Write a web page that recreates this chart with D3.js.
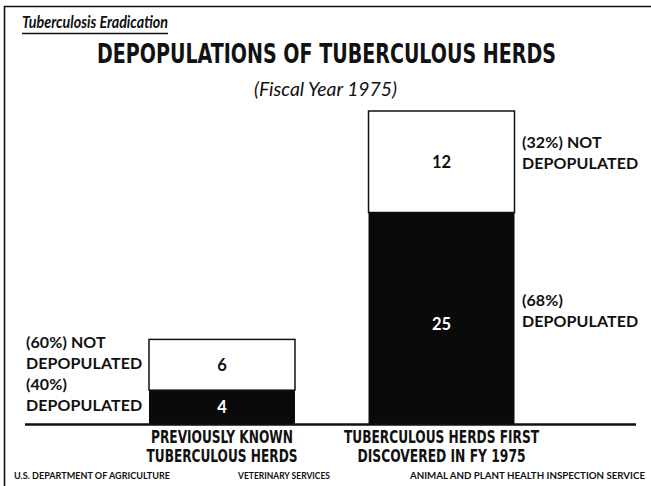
<!DOCTYPE html>
<html>
<head>
<meta charset="utf-8">
<script src="https://cdn.jsdelivr.net/npm/d3@7"></script>
<style>
  html, body { margin: 0; padding: 0; background: #fff; }
  svg { display: block; }
</style>
</head>
<body>
<script>
// ---- data ----
const categories = ["PREVIOUSLY KNOWN|TUBERCULOUS HERDS", "TUBERCULOUS HERDS FIRST|DISCOVERED IN FY 1975"];
const depopulated = [4, 25];
const notDepopulated = [6, 12];
const depopPct = ["(40%)", "(68%)"];
const notDepopPct = ["(60%) NOT", "(32%) NOT"];
const yMax = 37;

// ---- layout (not data) ----
const W = 651, H = 486;
const catLineWidths = [[142, 151], [195, 168]];

const svg = d3.select("body").append("svg").attr("width", W).attr("height", H);

// frame (top + left rule)
svg.append("path").attr("d", `M4.5,${H} L4.5,6.5 L${W},6.5`)
  .attr("fill", "none").attr("stroke", "#111").attr("stroke-width", 1.6);

const condensed = "'DejaVu Sans Condensed', 'DejaVu Sans', sans-serif";

// headings
svg.append("text").attr("x", 22).attr("y", 28)
  .attr("font-family", "Lato, 'DejaVu Sans', sans-serif").attr("font-style", "italic").attr("font-weight", 700)
  .attr("font-size", 17).attr("fill", "#111").text("Tuberculosis Eradication")
  .attr("textLength", 146).attr("lengthAdjust", "spacingAndGlyphs");
svg.append("line").attr("x1", 22).attr("x2", 168).attr("y1", 33.5).attr("y2", 33.5)
  .attr("stroke", "#111").attr("stroke-width", 1.5);

svg.append("g").attr("transform", "translate(326.5,63) scale(1,1.3)")
  .append("text").attr("x", 0).attr("y", 0).attr("text-anchor", "middle")
  .attr("font-family", condensed).attr("font-stretch", "condensed").attr("font-weight", 700)
  .attr("font-size", 20).attr("fill", "#111").text("DEPOPULATIONS OF TUBERCULOUS HERDS")
  .attr("textLength", 459).attr("lengthAdjust", "spacingAndGlyphs");

svg.append("text").attr("x", 325.5).attr("y", 96).attr("text-anchor", "middle")
  .attr("font-family", "Lato, 'DejaVu Sans', sans-serif").attr("font-style", "italic")
  .attr("font-size", 20).attr("fill", "#111").text("(Fiscal Year 1975)")
  .attr("textLength", 143).attr("lengthAdjust", "spacingAndGlyphs");

// scales
const x = d3.scaleBand().domain(categories).range([149, 514.5]).paddingInner(0.335).paddingOuter(0);
const y = d3.scaleLinear().domain([0, yMax]).range([424, 111]);

const rows = categories.map((c, i) => ({ c, i, dep: depopulated[i], not: notDepopulated[i] }));

const g = svg.append("g");
// not depopulated (white, outlined)
g.selectAll("rect.not").data(rows).join("rect").attr("class", "not")
  .attr("x", d => x(d.c)).attr("width", x.bandwidth())
  .attr("y", d => y(d.dep + d.not)).attr("height", d => y(d.dep) - y(d.dep + d.not))
  .attr("fill", "#fff").attr("stroke", "#111").attr("stroke-width", 1.5);
// depopulated (black)
g.selectAll("rect.dep").data(rows).join("rect").attr("class", "dep")
  .attr("x", d => x(d.c)).attr("width", x.bandwidth())
  .attr("y", d => y(d.dep)).attr("height", d => y(0) - y(d.dep))
  .attr("fill", "#0a0a0a");

// value labels
const valFont = "Lato, 'DejaVu Sans', sans-serif";
g.selectAll("text.vn").data(rows).join("text").attr("class", "vn")
  .attr("x", d => x(d.c) + x.bandwidth() / 2)
  .attr("y", d => (y(d.dep + d.not) + y(d.dep)) / 2 + 6)
  .attr("text-anchor", "middle").attr("font-family", valFont).attr("font-weight", 700)
  .attr("font-size", 16.5).attr("fill", "#111").text(d => d.not);
g.selectAll("text.vd").data(rows).join("text").attr("class", "vd")
  .attr("x", d => x(d.c) + x.bandwidth() / 2)
  .attr("y", d => (y(d.dep) + y(0)) / 2 + 6 + (d.i === 1 ? 6 : 0))
  .attr("text-anchor", "middle").attr("font-family", valFont).attr("font-weight", 700)
  .attr("font-size", 16.5).attr("fill", "#fff").text(d => d.dep);

// baseline
svg.append("line").attr("x1", 25).attr("x2", 636).attr("y1", y(0) + 0.5).attr("y2", y(0) + 0.5)
  .attr("stroke", "#111").attr("stroke-width", 2.5);

// side labels
const sideFont = "Lato, 'DejaVu Sans', sans-serif";
function sideLabel(xPos, yBase, lines) {
  const t = svg.append("text").attr("font-family", sideFont).attr("font-weight", 700)
    .attr("font-size", 16).attr("fill", "#111").attr("letter-spacing", 0.1);
  lines.forEach((ln, k) => t.append("tspan").attr("x", xPos).attr("y", yBase + k * 20.5).text(ln));
}
sideLabel(26, 348, [notDepopPct[0], "DEPOPULATED"]);
sideLabel(26, 390, [depopPct[0], "DEPOPULATED"]);
sideLabel(522, 148, [notDepopPct[1], "DEPOPULATED"]);
sideLabel(522, 306, [depopPct[1], "DEPOPULATED"]);

// category labels
rows.forEach(d => {
  d.c.split("|").forEach((ln, k) =>
    svg.append("text").attr("text-anchor", "middle").attr("font-family", condensed)
      .attr("font-stretch", "condensed").attr("font-weight", 700).attr("font-size", 18).attr("fill", "#111")
      .attr("x", x(d.c) + x.bandwidth() / 2).attr("y", 443 + k * 19).text(ln)
      .attr("textLength", catLineWidths[d.i][k]).attr("lengthAdjust", "spacingAndGlyphs"));
});

// footer
const footFont = "Lato, 'DejaVu Sans', sans-serif";
[["U.S. DEPARTMENT OF AGRICULTURE", 14, 156], ["VETERINARY SERVICES", 238, 92], ["ANIMAL AND PLANT HEALTH INSPECTION SERVICE", 410, 235]]
  .forEach(([s, xx, w]) => svg.append("text").attr("x", xx).attr("y", 479)
    .attr("font-family", footFont).attr("font-weight", 700).attr("font-size", 9.5).attr("fill", "#111")
    .text(s).attr("textLength", w).attr("lengthAdjust", "spacingAndGlyphs"));
</script>
</body>
</html>
